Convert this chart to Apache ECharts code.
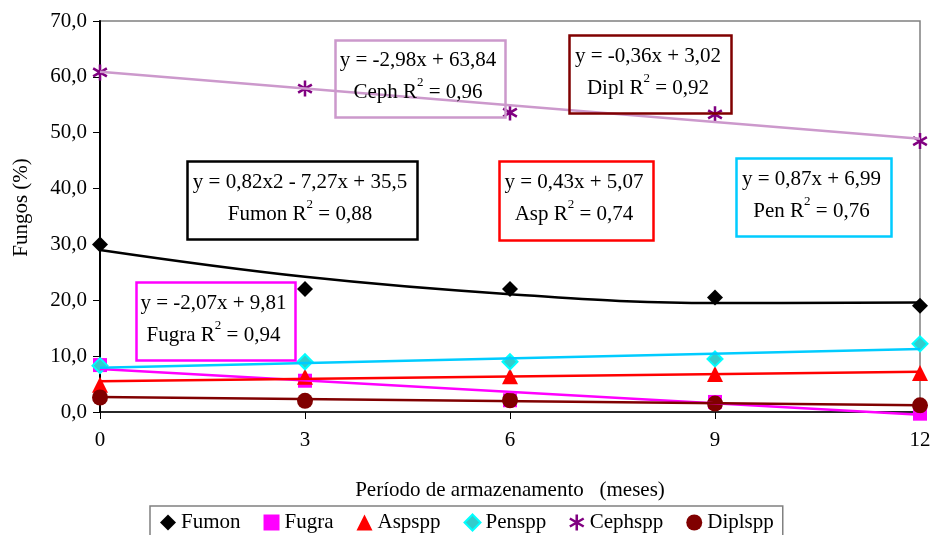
<!DOCTYPE html>
<html>
<head>
<meta charset="utf-8">
<script src="https://cdn.jsdelivr.net/npm/echarts@6/dist/echarts.min.js"></script>
<style>html,body{margin:0;padding:0;background:#fff;}#c{width:932px;height:535px;}</style>
</head>
<body>
<div id="c"></div>
<script>
// ---- data ----
const months = [0, 3, 6, 9, 12];
const fumon = [30.0, 22.0, 22.0, 20.5, 19.0];
const fugra = [8.4, 5.6, 2.1, 1.8, -0.3];
const asp   = [4.9, 6.3, 6.4, 6.8, 7.0];
const pen   = [8.3, 9.0, 9.0, 9.5, 12.2];
const ceph  = [60.8, 57.9, 53.6, 53.3, 48.5];
const dipl  = [2.6, 2.0, 2.1, 1.5, 1.2];

// trend lines
const fumonTrend = [29.0, 24.2, 21.1, 19.5, 19.6];   // at months
const trendMonths = [0, 12];
const fugraTrend = [7.7, -0.5];
const aspTrend   = [5.5, 7.2];
const penTrend   = [7.9, 11.3];
const cephTrend  = [60.9, 48.9];
const diplTrend  = [2.7, 1.2];

const seriesNames = ['Fumon', 'Fugra', 'Aspspp', 'Penspp', 'Cephspp', 'Diplspp'];
const yTicks = [0, 10, 20, 30, 40, 50, 60, 70];

const annotations = [
  { eq: 'y = -2,98x + 63,84', lab: 'Ceph R', r2: ' = 0,96' },
  { eq: 'y = -0,36x + 3,02', lab: 'Dipl R', r2: ' = 0,92' },
  { eq: 'y = 0,82x2 - 7,27x + 35,5', lab: 'Fumon R', r2: ' = 0,88' },
  { eq: 'y = 0,43x + 5,07', lab: 'Asp R', r2: ' = 0,74' },
  { eq: 'y = 0,87x + 6,99', lab: 'Pen R', r2: ' = 0,76' },
  { eq: 'y = -2,07x + 9,81', lab: 'Fugra R', r2: ' = 0,94' }
];
// ---- layout / style ----
const boxLayout = [
  { x: 333, y: 38, w: 170, h: 77, c: '#cc99cc' },
  { x: 567, y: 33, w: 162, h: 78, c: '#800000' },
  { x: 185, y: 159, w: 230, h: 78, c: '#000000' },
  { x: 497, y: 159, w: 154, h: 79, c: '#ff0000' },
  { x: 734, y: 156, w: 155, h: 78, c: '#00ccff' },
  { x: 134, y: 280, w: 159, h: 78, c: '#ff00ff' }
];
const FONT = '"Liberation Serif", "Times New Roman", serif';
const FS = 21;
const STAR = 'path://M-1.6,-10 L1.6,-10 L1.6,10 L-1.6,10 Z M7.86,6.39 L-9.46,-3.61 L-7.86,-6.39 L9.46,3.61 Z M9.46,-3.61 L-7.86,6.39 L-9.46,3.61 L7.86,-6.39 Z';

function pairs(xs, ys) { return xs.map((x, i) => [x, ys[i]]); }

const markerDefs = [
  { name: 'Fumon', data: fumon, symbol: 'diamond', size: 16, style: { color: '#000000' } },
  { name: 'Fugra', data: fugra, symbol: 'rect', size: 14, style: { color: '#ff00ff' } },
  { name: 'Aspspp', data: asp, symbol: 'triangle', size: [16, 16], style: { color: '#ff0000' } },
  { name: 'Penspp', data: pen, symbol: 'diamond', size: 15, style: { color: '#33cccc', borderColor: '#00ffff', borderWidth: 2 } },
  { name: 'Cephspp', data: ceph, symbol: STAR, size: [15, 16], style: { color: '#800080' } },
  { name: 'Diplspp', data: dipl, symbol: 'circle', size: 16, style: { color: '#800000' } }
];

const trendDefs = [
  { xs: months, ys: fumonTrend, color: '#000000', smooth: true },
  { xs: trendMonths, ys: fugraTrend, color: '#ff00ff' },
  { xs: trendMonths, ys: aspTrend, color: '#ff0000' },
  { xs: trendMonths, ys: penTrend, color: '#00ccff' },
  { xs: trendMonths, ys: cephTrend, color: '#cc99cc' },
  { xs: trendMonths, ys: diplTrend, color: '#800000' }
];

const series = [];
markerDefs.forEach((m, i) => {
  series.push({
    name: m.name, type: 'scatter', data: pairs(months, m.data),
    symbol: m.symbol, symbolSize: m.size,
    itemStyle: Object.assign({ opacity: 1 }, m.style),
    clip: false, z: 3 + i * 0.01, silent: true
  });
});
trendDefs.forEach((t, i) => {
  series.push({
    name: 'trend' + i, type: 'line', data: pairs(t.xs, t.ys),
    showSymbol: false, smooth: t.smooth ? 0.4 : false, clip: false,
    lineStyle: { color: t.color, width: 2.5 }, z: 4, silent: true
  });
});

const graphics = [];
annotations.forEach((a, i) => {
  const b = boxLayout[i];
  graphics.push({
    type: 'rect', left: b.x, top: b.y, z: 10,
    shape: { width: b.w, height: b.h },
    style: { fill: 'none', stroke: b.c, lineWidth: 2.5 }
  });
  graphics.push({
    type: 'text', z: 11,
    x: b.x + b.w / 2, y: b.y + b.h / 2,
    style: {
      text: '{a|' + a.eq + '}\n{a|' + a.lab + '}{s|2}{a|' + a.r2 + '}',
      align: 'center', verticalAlign: 'middle',
      rich: {
        a: { fontSize: FS, fontFamily: FONT, lineHeight: 32, fill: '#000' },
        s: { fontSize: 13, fontFamily: FONT, lineHeight: 22, verticalAlign: 'top', fill: '#000' }
      }
    }
  });
});

const chart = echarts.init(document.getElementById('c'), null, { renderer: 'canvas' });
chart.setOption({
  backgroundColor: '#ffffff',
  animation: false,
  grid: { left: 100, right: 12, top: 21, bottom: 123, show: true, borderColor: '#808080', borderWidth: 1.5, containLabel: false, outerBoundsMode: 'none' },
  legend: {
    data: seriesNames.map(n => n === 'Cephspp' ? { name: n, icon: STAR } : n),
    left: 150, top: 506,
    padding: [6, 9, 12, 10],
    itemGap: 23, itemWidth: 16, itemHeight: 16,
    borderColor: '#808080', borderWidth: 1.5,
    textStyle: { fontSize: FS, fontFamily: FONT, color: '#000' },
    selectedMode: false
  },
  xAxis: {
    type: 'value', min: 0, max: 12, interval: 3,
    name: 'Período de armazenamento   (meses)',
    nameLocation: 'middle', nameGap: 68,
    nameTextStyle: { fontSize: FS, fontFamily: FONT, color: '#000', whiteSpace: 'pre' },
    axisLine: { show: true, onZero: false, lineStyle: { color: '#000', width: 1.5 } },
    axisTick: { show: true, length: 7, lineStyle: { color: '#000', width: 1 } },
    axisLabel: { fontSize: FS, fontFamily: FONT, color: '#000', margin: 18 },
    splitLine: { show: false }
  },
  yAxis: {
    type: 'value', min: yTicks[0], max: yTicks[yTicks.length - 1], interval: 10,
    name: 'Fungos (%)', nameLocation: 'middle', nameGap: 68,
    nameTextStyle: { fontSize: FS, fontFamily: FONT, color: '#000', padding: [0, 0, 0, 18] },
    axisLine: { show: true, lineStyle: { color: '#000', width: 2 } },
    axisTick: { show: true, length: 7, lineStyle: { color: '#000', width: 1 } },
    axisLabel: { fontSize: FS, fontFamily: FONT, color: '#000', margin: 13,
      formatter: v => v.toFixed(1).replace('.', ',') },
    splitLine: { show: false }
  },
  series: series,
  graphic: graphics
});
</script>
</body>
</html>
